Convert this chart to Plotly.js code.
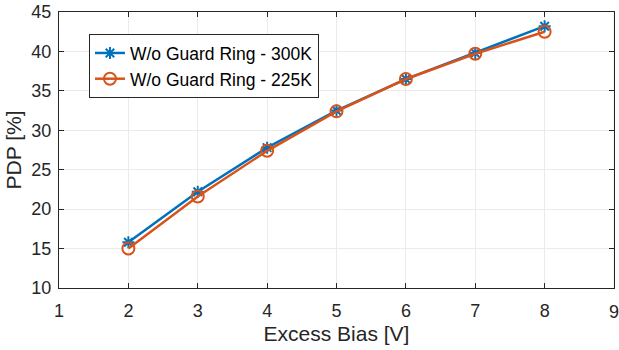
<!DOCTYPE html>
<html><head><meta charset="utf-8">
<script src="https://cdn.plot.ly/plotly-3.0.1.min.js"></script>
<style>html,body{margin:0;padding:0;background:#fff}#chart{width:619px;height:350px}</style>
</head><body><div id="chart"></div>
<script>
const excessBias = [2, 3, 4, 5, 6, 7, 8];
const pdp300K = [15.8, 22.2, 27.8, 32.5, 36.5, 39.8, 43.2];
const pdp225K = [15.0, 21.6, 27.4, 32.4, 36.5, 39.7, 42.5];
const seriesNames = ['W/o Guard Ring - 300K', 'W/o Guard Ring - 225K'];
const xTicks = [1, 2, 3, 4, 5, 6, 7, 8, 9];
const yTicks = [10, 15, 20, 25, 30, 35, 40, 45];

const FONT = 'Liberation Sans, Arial, Helvetica, sans-serif';

const traces = [
  {x: excessBias, y: pdp300K, name: seriesNames[0], type: 'scatter', mode: 'lines+markers',
   line: {color: '#0072BD', width: 2.5},
   marker: {symbol: 'asterisk-open', size: 10, color: '#0072BD', line: {color: '#0072BD', width: 2}}},
  {x: excessBias, y: pdp225K, name: seriesNames[1], type: 'scatter', mode: 'lines+markers',
   line: {color: '#D95319', width: 2.5},
   marker: {symbol: 'circle-open', size: 12, color: '#D95319', line: {color: '#D95319', width: 2}}}
];

const axisCommon = {
  showgrid: true, gridcolor: '#ebebeb', gridwidth: 1,
  zeroline: false, showline: true, linecolor: '#262626', linewidth: 1,
  mirror: 'ticks', ticks: 'inside', ticklen: 5, tickcolor: '#262626',
  tickfont: {family: FONT, size: 18, color: '#262626'}
};

const lastTick = xTicks[xTicks.length - 1];

const layout = {
  width: 619, height: 350,
  margin: {l: 59, r: 5, t: 12, b: 62},
  paper_bgcolor: '#fff', plot_bgcolor: '#fff',
  showlegend: true,
  legend: {x: 0.054, y: 0.92, xanchor: 'left', yanchor: 'top',
    bgcolor: '#fff', bordercolor: '#262626', borderwidth: 1,
    font: {family: FONT, size: 17.5, color: '#000'},
    tracegroupgap: 0, itemwidth: 30},
  xaxis: Object.assign({}, axisCommon, {range: [1, 9], tickvals: xTicks.slice(0, -1), ticklabelstandoff: 6,
    title: {text: 'Excess Bias [V]', standoff: 6, font: {family: FONT, size: 21, color: '#262626'}}}),
  yaxis: Object.assign({}, axisCommon, {range: [10, 45], tickvals: yTicks, ticklabelstandoff: 3,
    title: {text: 'PDP [%]', standoff: 4, font: {family: FONT, size: 21, color: '#262626'}}}),
  shapes: [{type: 'line', xref: 'x', yref: 'paper', x0: lastTick, x1: lastTick, y0: 0, y1: 1,
    line: {color: '#ebebeb', width: 1}, layer: 'below'}],
  annotations: [{text: String(lastTick), xref: 'x', yref: 'paper', x: lastTick, y: 0,
    xanchor: 'center', yanchor: 'top', yshift: -12, showarrow: false,
    font: {family: FONT, size: 18, color: '#262626'}}]
};

Plotly.newPlot('chart', traces, layout, {displayModeBar: false, staticPlot: true});
</script></body></html>
